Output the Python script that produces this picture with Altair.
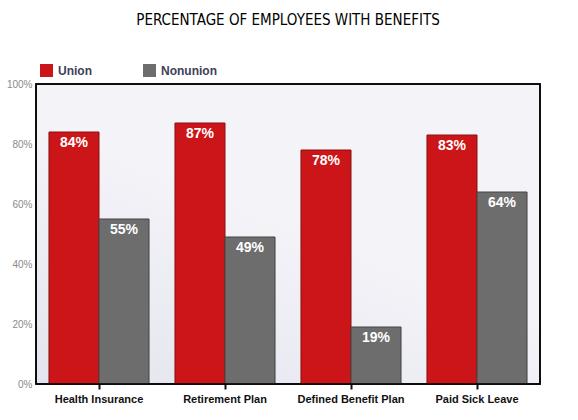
import altair as alt
import pandas as pd

categories = ["Health Insurance", "Retirement Plan", "Defined Benefit Plan", "Paid Sick Leave"]
union = [84, 87, 78, 83]
nonunion = [55, 49, 19, 64]
groups = ["Union", "Nonunion"]

rows = []
for c, u, n in zip(categories, union, nonunion):
    rows.append({"category": c, "group": "Union", "value": u, "label": f"{u}%"})
    rows.append({"category": c, "group": "Nonunion", "value": n, "label": f"{n}%"})
df = pd.DataFrame(rows)

x = alt.X("category:N", sort=categories, title=None,
          scale=alt.Scale(paddingInner=0.206, paddingOuter=0.103),
          axis=alt.Axis(labelAngle=0, labelFont="Liberation Sans", labelFontSize=11,
                        labelFontWeight="bold", labelColor="#111111", tickColor="#111111",
                        tickSize=5, tickWidth=2, domain=False, labelPadding=4))
xo = alt.XOffset("group:N", sort=groups)
y = alt.Y("value:Q", title=None,
          scale=alt.Scale(domain=[0, 100]),
          axis=alt.Axis(values=[0, 20, 40, 60, 80, 100], labelExpr="datum.value + '%'",
                        labelFont="Liberation Sans", labelFontSize=10, labelColor="#8a8a8a",
                        ticks=False, domain=False, gridColor="#b9b9c2", labelPadding=4))

bg = alt.Chart(pd.DataFrame({"a": [0]})).mark_rect(
    color=alt.LinearGradient(
        gradient="linear", x1=0, y1=1, x2=0.4, y2=0.4,
        stops=[alt.GradientStop(offset=0, color="#e4e4ee"),
               alt.GradientStop(offset=1, color="#f3f3f8")]),
    stroke="#000000", strokeWidth=1.5
).encode(x=alt.value(0), x2=alt.value(504), y=alt.value(0), y2=alt.value(300))

frame = alt.Chart(pd.DataFrame({"a": [0]})).mark_rect(
    fillOpacity=0, stroke="#000000", strokeWidth=1.5
).encode(x=alt.value(0), x2=alt.value(504), y=alt.value(0), y2=alt.value(300))

bars = alt.Chart(df).mark_bar(strokeWidth=1, opacity=1).encode(
    x=x, xOffset=xo, y=y,
    color=alt.Color("group:N", sort=groups,
                    scale=alt.Scale(domain=groups, range=["#cc1518", "#6d6d6d"]),
                    legend=alt.Legend(title=None, orient="none", legendX=4, legendY=-20,
                                      direction="horizontal", symbolType="square",
                                      symbolSize=169, symbolStrokeWidth=0,
                                      labelFont="Liberation Sans", labelFontSize=12,
                                      labelFontWeight="bold", labelColor="#40405a",
                                      columnPadding=51, labelOffset=5)),
    stroke=alt.Stroke("group:N", sort=groups,
                      scale=alt.Scale(domain=groups, range=["#8a1010", "#444444"]),
                      legend=None),
)

labels = alt.Chart(df).mark_text(
    font="Liberation Sans", fontSize=14, fontWeight="bold", color="white",
    baseline="middle", dy=11
).encode(x=x, xOffset=xo, y=y, text="label:N")

chart = alt.layer(bg, bars, labels, frame).properties(
    width=504, height=300,
    title=alt.TitleParams("PERCENTAGE OF EMPLOYEES WITH BENEFITS",
                          font="Liberation Sans Narrow, DejaVu Sans Condensed, Liberation Sans",
                          fontSize=15, fontWeight="normal",
                          color="#000000", anchor="middle", frame="group", offset=36),
    autosize="none",
    padding={"left": 36, "top": 84, "right": 38, "bottom": 36},
).configure_view(
    stroke=None,
).configure(background="white")

chart.save("out.html", embed_options={"renderer": "svg", "actions": False})
